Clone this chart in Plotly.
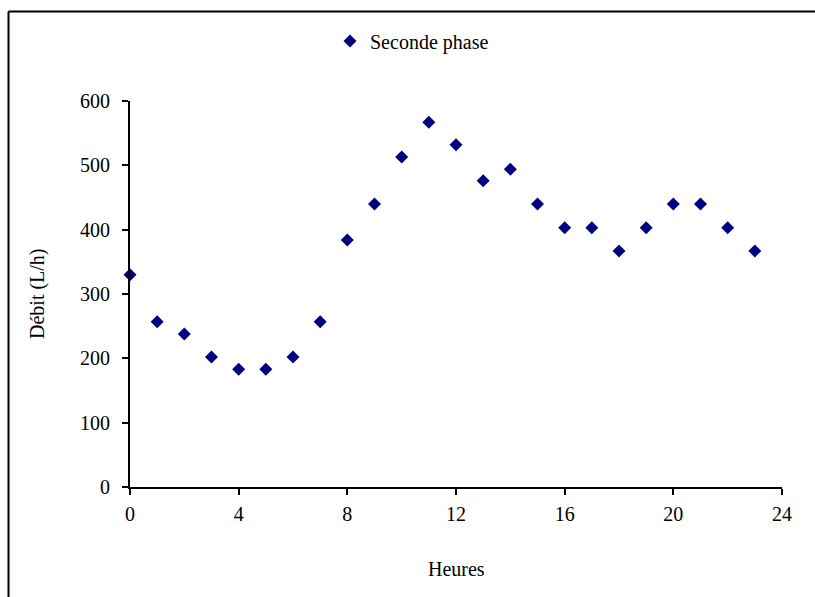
import plotly.graph_objects as go

hours = list(range(24))
debit = [330, 257, 238, 202, 183, 183, 202, 257, 384, 440, 513, 567,
         532, 476, 494, 440, 403, 403, 367, 403, 440, 440, 403, 367]
series_name = "Seconde phase"
x_ticks = [0, 4, 8, 12, 16, 20, 24]
y_ticks = [0, 100, 200, 300, 400, 500, 600]

W, H = 815, 597
L, R, T, B = 130, 782, 101, 487  # plot area pixels
pw, ph = R - L, B - T

def px(x):
    return (x - L) / pw

def py(y):
    return (B - y) / ph

font = dict(family="Liberation Serif, Times New Roman, serif", size=20, color="black")

fig = go.Figure()
fig.add_trace(go.Scatter(
    x=hours, y=debit, mode="markers", name=series_name,
    marker=dict(symbol="diamond", size=10, color="#000080"),
    cliponaxis=False,
))

fig.update_layout(
    width=W, height=H,
    margin=dict(l=L, r=W - R, t=T, b=H - B),
    paper_bgcolor="white", plot_bgcolor="white",
    font=font,
    showlegend=True,
    legend=dict(x=px(330), y=py(41), xanchor="left", yanchor="middle",
                font=dict(size=20), bgcolor="rgba(0,0,0,0)", itemwidth=30),
    xaxis=dict(range=[0, 24], tickvals=x_ticks, showgrid=False, zeroline=False,
               showline=True, linecolor="black", linewidth=2,
               ticks="outside", ticklen=6, tickwidth=1.5, tickcolor="black",
               tickfont=font, ticklabelstandoff=2),
    yaxis=dict(range=[0, 600], tickvals=y_ticks, showgrid=False, zeroline=False,
               showline=True, linecolor="black", linewidth=2,
               ticks="outside", ticklen=6, tickwidth=1.5, tickcolor="black",
               tickfont=font, ticklabelstandoff=8),
    annotations=[
        dict(text="Heures", x=px(456), y=py(569), xref="paper", yref="paper",
             showarrow=False, xanchor="center", yanchor="middle", font=font),
        dict(text="Débit (L/h)", x=px(37), y=py(294), xref="paper", yref="paper",
             showarrow=False, xanchor="center", yanchor="middle", textangle=-90, font=font),
    ],
    shapes=[
        dict(type="line", xref="paper", yref="paper", x0=px(8.5), x1=px(830),
             y0=py(11.5), y1=py(11.5), line=dict(color="black", width=2)),
        dict(type="line", xref="paper", yref="paper", x0=px(8.5), x1=px(8.5),
             y0=py(11.5), y1=py(610), line=dict(color="black", width=2)),
    ],
)

fig.write_html("out.html")
